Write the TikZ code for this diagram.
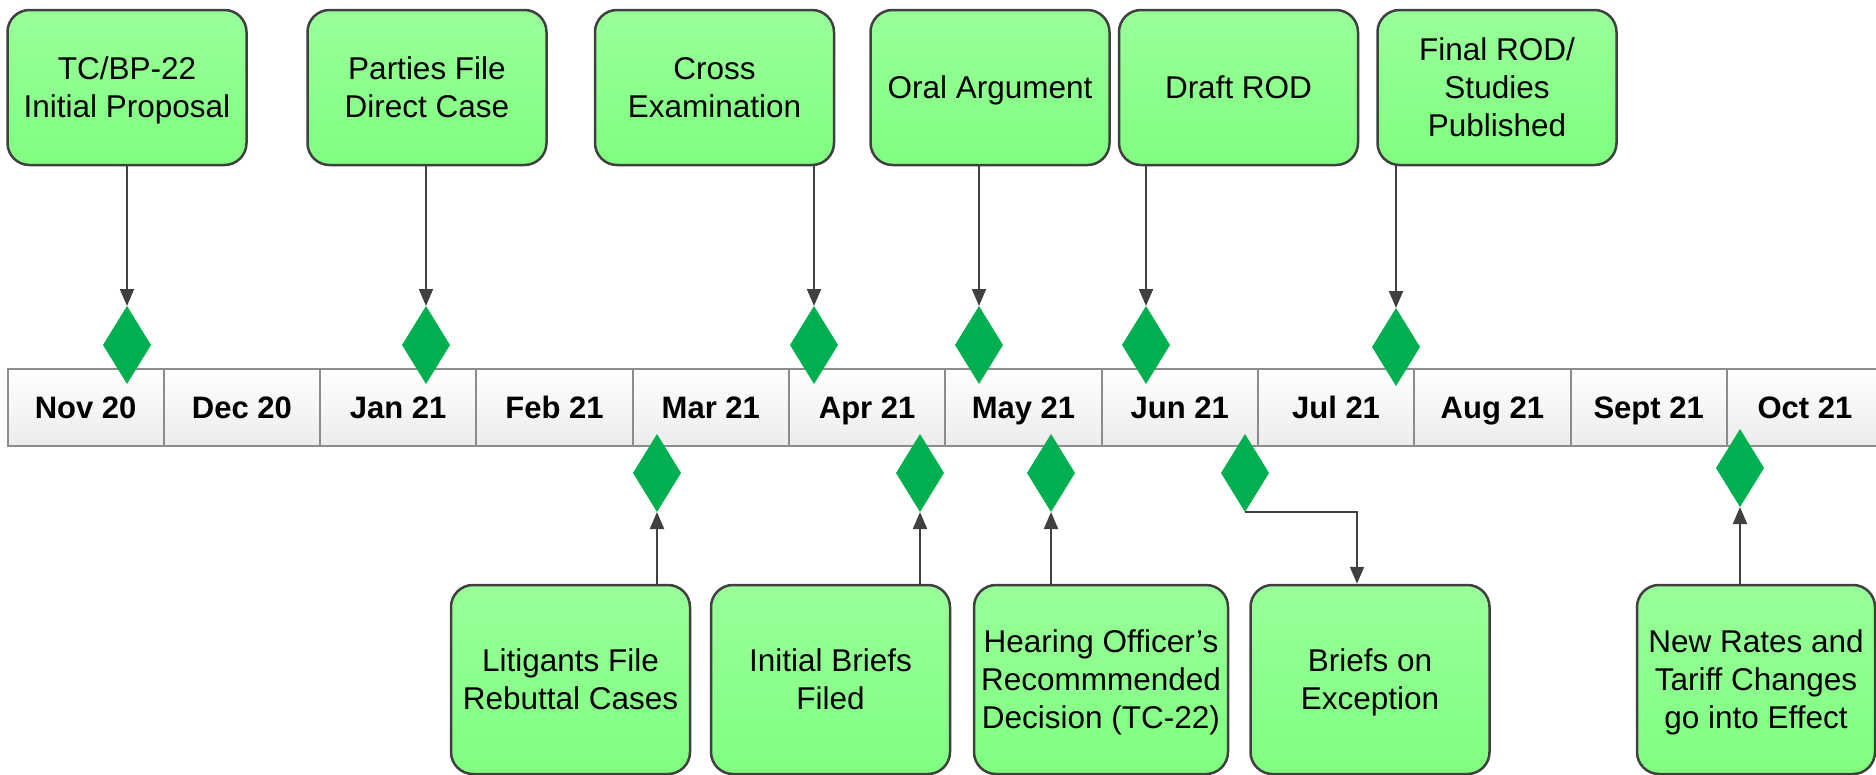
\documentclass[tikz,border=0pt]{standalone}
\usepackage{fontspec}
\setmainfont{Liberation Sans}
\usetikzlibrary{shapes.geometric,arrows.meta}
\definecolor{boxtop}{RGB}{153,255,153}
\definecolor{boxbot}{RGB}{128,255,128}
\definecolor{boxline}{RGB}{64,64,64}
\definecolor{dgreen}{RGB}{0,176,80}
\definecolor{cellline}{RGB}{140,140,140}
\definecolor{cellbot}{RGB}{236,236,236}
\begin{document}
\begin{tikzpicture}[x=1pt,y=-1pt,
 evbox/.style={draw=boxline, line width=2.5pt, rounded corners=22pt, top color=boxtop, bottom color=boxbot, align=center, font=\fontsize{31.5}{38}\selectfont, inner sep=0pt, text depth=0pt},
 topbox/.style={evbox, minimum width=239pt, minimum height=155pt},
 botbox/.style={evbox, minimum width=239pt, minimum height=189pt},
 mcell/.style={draw=cellline, line width=2pt, top color=white, bottom color=cellbot, minimum width=156.3pt, minimum height=77pt, inner sep=0pt, text height=22pt, text depth=0pt, font=\fontsize{31}{37}\bfseries\selectfont},
 gem/.style={diamond, fill=dgreen, minimum width=48pt, minimum height=78pt, inner sep=0pt, outer sep=0pt},
 arr/.style={draw=boxline, line width=2pt, -{Triangle[width=14pt,length=17pt]}}
]
\fill[white] (0,0) rectangle (1876,774);
\useasboundingbox (0,0) rectangle (1876,774);

% timeline
\foreach \lab [count=\i] in {Nov 20,Dec 20,Jan 21,Feb 21,Mar 21,Apr 21,May 21,Jun 21,Jul 21,Aug 21,Sept 21,Oct 21}
  \node[mcell] (m\i) at ({7.5+156.3*(\i-0.5)},407.5) {\lab};

% top boxes
\node[topbox] (t1) at (127,87.5) {TC/BP-22\\Initial Proposal};
\node[topbox] (t2) at (427,87.5) {Parties File\\Direct Case};
\node[topbox] (t3) at (714.5,87.5) {Cross\\Examination};
\node[topbox] (t4) at (990,87.5) {Oral Argument};
\node[topbox] (t5) at (1238.5,87.5) {Draft ROD};
\node[topbox] (t6) at (1497,87.5) {Final ROD/\\Studies\\Published};

% bottom boxes
\node[botbox] (b1) at (570.5,679.5) {Litigants File\\Rebuttal Cases};
\node[botbox] (b2) at (830.5,679.5) {Initial Briefs\\Filed};
\node[botbox, minimum width=254pt] (b3) at (1101,679.5) {Hearing Officer’s\\Recommmended\\Decision (TC-22)};
\node[botbox] (b4) at (1370,679.5) {Briefs on\\Exception};
\node[botbox, minimum width=238pt] (b5) at (1756,679.5) {New Rates and\\Tariff Changes\\go into Effect};

% top diamonds
\node[gem] (d1) at (127,345) {};
\node[gem] (d2) at (426,345) {};
\node[gem] (d3) at (814,345) {};
\node[gem] (d4) at (979,345) {};
\node[gem] (d5) at (1146,345) {};
\node[gem] (d6) at (1396,347) {};

% bottom diamonds
\node[gem] (e1) at (657,473) {};
\node[gem] (e2) at (920,473) {};
\node[gem] (e3) at (1051,473) {};
\node[gem] (e4) at (1245,473) {};
\node[gem] (e5) at (1740,468) {};

% connectors
\foreach \i in {1,...,6}
  \draw[arr] (d\i |- t\i.south) -- (d\i.north);
\foreach \i in {1,2,3,5}
  \draw[arr] (e\i |- b\i.north) -- (e\i.south);
\draw[arr] (e4.south) -| ([xshift=-13pt]b4.north);
\end{tikzpicture}
\end{document}
